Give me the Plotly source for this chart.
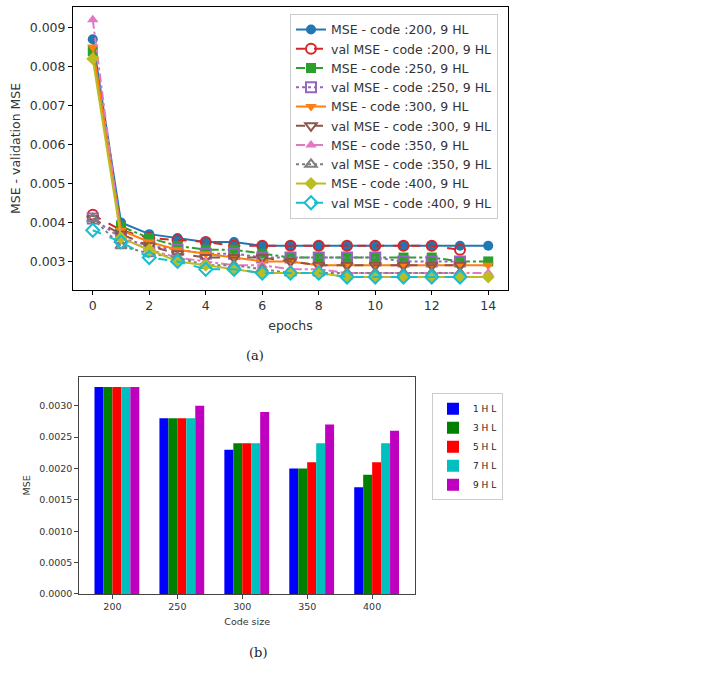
import plotly.graph_objects as go

# ---------------- data: (a) training curves ----------------
epochs = list(range(15))
val_epochs = list(range(14))

mse_200 = [0.0087, 0.0040, 0.0037, 0.0036, 0.0035, 0.0035, 0.0034, 0.0034, 0.0034, 0.0034, 0.0034, 0.0034, 0.0034, 0.0034, 0.0034]
val_200 = [0.0042, 0.0038, 0.0036, 0.00355, 0.0035, 0.0034, 0.0034, 0.0034, 0.0034, 0.0034, 0.0034, 0.0034, 0.0034, 0.0033]
mse_250 = [0.0084, 0.0039, 0.0036, 0.0034, 0.0033, 0.0033, 0.0032, 0.0031, 0.0031, 0.0031, 0.0031, 0.0031, 0.0031, 0.0030, 0.0030]
val_250 = [0.0041, 0.0036, 0.0034, 0.0033, 0.0032, 0.0032, 0.0031, 0.0031, 0.0031, 0.0031, 0.0031, 0.0030, 0.0030, 0.0030]
mse_300 = [0.0085, 0.0038, 0.0035, 0.0033, 0.0032, 0.0031, 0.0030, 0.0030, 0.0029, 0.0029, 0.0029, 0.0029, 0.0029, 0.0029, 0.0029]
val_300 = [0.0041, 0.0037, 0.0034, 0.0032, 0.0031, 0.0031, 0.0031, 0.0030, 0.0029, 0.0029, 0.0029, 0.0029, 0.0029, 0.0029]
mse_350 = [0.0092, 0.0036, 0.0033, 0.0031, 0.0030, 0.0029, 0.0029, 0.0028, 0.0028, 0.0027, 0.0027, 0.0027, 0.0027, 0.0027, 0.0027]
val_350 = [0.0041, 0.0034, 0.0032, 0.0031, 0.0029, 0.0029, 0.0028, 0.0027, 0.0027, 0.0027, 0.0027, 0.0027, 0.0027, 0.0027]
mse_400 = [0.0082, 0.0036, 0.0033, 0.0030, 0.0029, 0.0028, 0.0027, 0.0027, 0.0027, 0.0026, 0.0026, 0.0026, 0.0026, 0.0026, 0.0026]
val_400 = [0.0038, 0.0035, 0.0031, 0.0030, 0.0028, 0.0028, 0.0027, 0.0027, 0.0027, 0.0026, 0.0026, 0.0026, 0.0026, 0.0026]

line_names = [
    "MSE - code :200, 9 HL", "val MSE - code :200, 9 HL",
    "MSE - code :250, 9 HL", "val MSE - code :250, 9 HL",
    "MSE - code :300, 9 HL", "val MSE - code :300, 9 HL",
    "MSE - code :350, 9 HL", "val MSE - code :350, 9 HL",
    "MSE - code :400, 9 HL", "val MSE - code :400, 9 HL",
]
line_series = [mse_200, val_200, mse_250, val_250, mse_300, val_300, mse_350, val_350, mse_400, val_400]
line_colors = ["#1f77b4", "#d62728", "#2ca02c", "#9467bd", "#ff7f0e",
               "#8c564b", "#e377c2", "#7f7f7f", "#bcbd22", "#17becf"]
line_dashes = ["solid", "dash", "dashdot", "dot", "solid", "dash", "dashdot", "dot", "solid", "dash"]
line_symbols = ["circle", "circle-open", "square", "square-open", "triangle-down",
                "triangle-down-open", "triangle-up", "triangle-up-open", "diamond", "diamond-open"]

# ---------------- data: (b) bar chart ----------------
code_sizes = ["200", "250", "300", "350", "400"]
bar_names = ["1 H L", "3 H L", "5 H L", "7 H L", "9 H L"]
hl_1 = [0.0033, 0.0028, 0.0023, 0.0020, 0.0017]
hl_3 = [0.0033, 0.0028, 0.0024, 0.0020, 0.0019]
hl_5 = [0.0033, 0.0028, 0.0024, 0.0021, 0.0021]
hl_7 = [0.0033, 0.0028, 0.0024, 0.0024, 0.0024]
hl_9 = [0.0033, 0.0030, 0.0029, 0.0027, 0.0026]
bar_series = [hl_1, hl_3, hl_5, hl_7, hl_9]
bar_colors = ["#0000ff", "#008000", "#ff0000", "#00bfbf", "#bf00bf"]
bar_width = 0.138

W, H = 726, 689
fig = go.Figure()

for name, ys, col, dash, sym in zip(line_names, line_series, line_colors, line_dashes, line_symbols):
    xs = epochs if len(ys) == len(epochs) else val_epochs
    is_open = sym.endswith("open")
    fig.add_trace(go.Scatter(
        x=xs, y=ys, name=name, mode="lines+markers",
        line=dict(color=col, width=2, dash=dash),
        marker=dict(symbol=sym, size=10, color=col,
                    line=dict(color=col, width=2 if is_open else 0)),
        xaxis="x", yaxis="y", legend="legend",
    ))

idx = list(range(len(code_sizes)))
for i, (name, ys, col) in enumerate(zip(bar_names, bar_series, bar_colors)):
    fig.add_trace(go.Bar(
        x=idx, y=ys, name=name, width=bar_width, offset=(i - 2) * bar_width,
        marker=dict(color=col, line=dict(width=0)),
        xaxis="x2", yaxis="y2", legend="legend2",
    ))

font_main = "DejaVu Sans, sans-serif"
tick_col = "#333333"

fig.update_layout(
    width=W, height=H,
    margin=dict(l=0, r=0, t=0, b=0),
    paper_bgcolor="white", plot_bgcolor="white",
    font=dict(family=font_main, color=tick_col),
    barmode="overlay",
    showlegend=True,
    xaxis=dict(
        domain=[73 / W, 508 / W], anchor="y",
        range=[-0.7, 14.7], tickmode="linear", tick0=0, dtick=2,
        showgrid=False, zeroline=False,
        showline=True, linecolor="black", linewidth=1, mirror=True,
        ticks="outside", ticklen=4, tickcolor="black",
        tickfont=dict(size=12.5, color=tick_col),
        title=dict(text="epochs", font=dict(size=12.5, color=tick_col), standoff=9),
    ),
    yaxis=dict(
        domain=[1 - 292 / H, 1 - 7 / H], anchor="x",
        range=[0.00227, 0.00953], tickmode="linear", tick0=0.003, dtick=0.001,
        tickformat=".3f",
        showgrid=False, zeroline=False,
        showline=True, linecolor="black", linewidth=1, mirror=True,
        ticks="outside", ticklen=4, tickcolor="black",
        tickfont=dict(size=12.5, color=tick_col),
        title=dict(text="MSE - validation MSE", font=dict(size=12.5, color=tick_col), standoff=6),
    ),
    xaxis2=dict(
        domain=[79.3 / W, 415 / W], anchor="y2",
        range=[-0.51, 4.66], tickmode="array", tickvals=idx, ticktext=code_sizes,
        showgrid=False, zeroline=False,
        showline=True, linecolor="#444444", linewidth=1, mirror=True,
        ticks="outside", ticklen=4, tickcolor="#444444",
        tickfont=dict(size=9.5, color=tick_col),
        title=dict(text="Code size", font=dict(size=9.5, color=tick_col), standoff=6),
    ),
    yaxis2=dict(
        domain=[1 - 598.3 / H, 1 - 379.3 / H], anchor="x2",
        range=[0, 0.003465], tickmode="linear", tick0=0, dtick=0.0005,
        tickformat=".4f",
        showgrid=False, zeroline=False,
        showline=True, linecolor="#444444", linewidth=1, mirror=True,
        ticks="outside", ticklen=4, tickcolor="#444444",
        tickfont=dict(size=9.5, color=tick_col),
        title=dict(text="MSE", font=dict(size=9.5, color=tick_col), standoff=6),
    ),
    legend=dict(
        x=290 / W, y=1 - 14 / H, xanchor="left", yanchor="top",
        bgcolor="rgba(255,255,255,0.85)", bordercolor="#cccccc", borderwidth=1,
        font=dict(size=12.5, color=tick_col), tracegroupgap=0,
    ),
    legend2=dict(
        x=432 / W, y=1 - 396 / H, xanchor="left", yanchor="top",
        bgcolor="white", bordercolor="#cccccc", borderwidth=1,
        font=dict(size=9, color="#222222"), tracegroupgap=0,
    ),
    annotations=[
        dict(text="(a)", x=255 / W, y=1 - 358 / H, xref="paper", yref="paper",
             xanchor="center", yanchor="middle",
             showarrow=False, font=dict(family="DejaVu Serif, serif", size=13, color="#222222")),
        dict(text="(b)", x=258 / W, y=1 - 657 / H, xref="paper", yref="paper",
             xanchor="center", yanchor="middle",
             showarrow=False, font=dict(family="DejaVu Serif, serif", size=13, color="#222222")),
    ],
)

fig.write_html("out.html")
